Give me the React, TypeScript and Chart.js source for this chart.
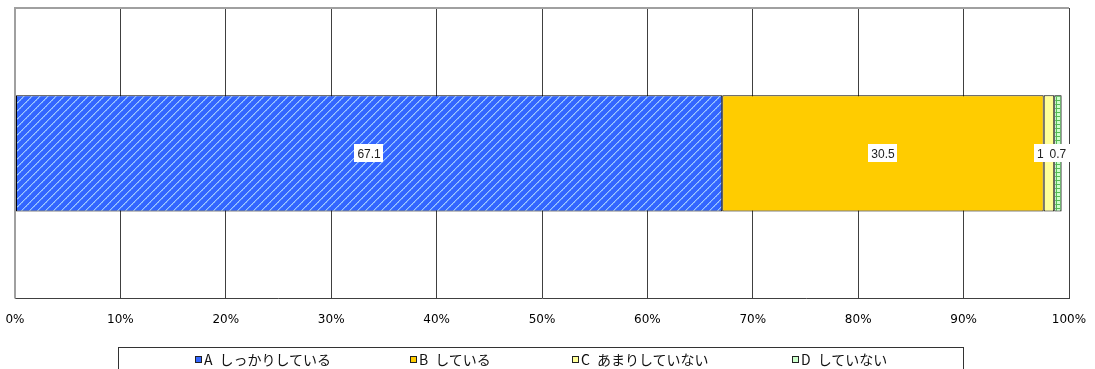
import React, { useEffect, useRef } from "react";
import { Chart, registerables } from "chart.js";

Chart.register(...registerables);

// Response shares (%) for a single question, stacked left to right
const categories = ["回答"];
const seriesCodes = ["A", "B", "C", "D"];
const seriesNames = ["しっかりしている", "している", "あまりしていない", "していない"];
const seriesValues = [67.1, 30.5, 1, 0.7];
const tickValues = [0, 10, 20, 30, 40, 50, 60, 70, 80, 90, 100];

const BLUE = "#3366FF";
const ORANGE = "#FFCC00";
const PALE_YELLOW = "#FFFF99";
const PALE_GREEN = "#CCFFCC";

function makeTile(size: number, draw: (ctx: CanvasRenderingContext2D) => void) {
  const c = document.createElement("canvas");
  c.width = size;
  c.height = size;
  const ctx = c.getContext("2d")!;
  draw(ctx);
  return c;
}

function bluePattern(ctx: CanvasRenderingContext2D) {
  const tile = makeTile(8, (t) => {
    t.fillStyle = BLUE;
    t.fillRect(0, 0, 8, 8);
    for (let i = 0; i < 8; i++) {
      t.fillStyle = "#9CC8FF";
      t.fillRect(i, 7 - i, 1, 1);
      t.fillStyle = "#5F8EFF";
      t.fillRect((i + 1) % 8, 7 - i, 1, 1);
      if (i % 2 === 0) {
        t.fillStyle = "#7FAEFF";
        t.fillRect(i, (8 - i) % 8, 1, 1);
      }
    }
  });
  return ctx.createPattern(tile, "repeat")!;
}

function greenPattern(ctx: CanvasRenderingContext2D) {
  const tile = makeTile(4, (t) => {
    t.fillStyle = PALE_GREEN;
    t.fillRect(0, 0, 4, 4);
    t.fillStyle = "#55BB55";
    t.fillRect(0, 0, 4, 1);
    t.fillRect(0, 0, 1, 4);
  });
  return ctx.createPattern(tile, "repeat")!;
}

// Plot area frame: light grey top and left edges
const framePlugin = {
  id: "frame",
  beforeDatasetsDraw(chart: any) {
    const { ctx, chartArea } = chart;
    ctx.save();
    ctx.strokeStyle = "#A0A0A0";
    ctx.lineWidth = 2;
    ctx.beginPath();
    ctx.moveTo(chartArea.left, chartArea.bottom);
    ctx.lineTo(chartArea.left, chartArea.top);
    ctx.lineTo(chartArea.right, chartArea.top);
    ctx.stroke();
    ctx.restore();
  },
};

// White value boxes centred on each segment, nudged apart when they collide
const valueLabelPlugin = {
  id: "valueLabels",
  afterDatasetsDraw(chart: any) {
    const { ctx } = chart;
    ctx.save();
    ctx.font = '12px "Liberation Sans", Arial, sans-serif';
    ctx.textAlign = "center";
    ctx.textBaseline = "middle";
    const boxes: { text: string; cx: number; cy: number; w: number }[] = [];
    chart.data.datasets.forEach((ds: any, i: number) => {
      const meta = chart.getDatasetMeta(i);
      const el = meta.data[0];
      if (!el) return;
      const text = String(ds.data[0]);
      const w = ctx.measureText(text).width + 6;
      boxes.push({ text, cx: (el.x + el.base) / 2, cy: el.y, w });
    });
    for (let i = boxes.length - 2; i >= 0; i--) {
      const a = boxes[i];
      const b = boxes[i + 1];
      const overlap = a.cx + a.w / 2 - (b.cx - b.w / 2);
      if (overlap > 0) a.cx -= overlap;
    }
    boxes.forEach((b) => {
      ctx.fillStyle = "#FFFFFF";
      ctx.fillRect(Math.round(b.cx - b.w / 2), Math.round(b.cy - 9), Math.round(b.w), 18);
      ctx.fillStyle = "#222222";
      ctx.fillText(b.text, b.cx, b.cy + 1);
    });
    ctx.restore();
  },
};

const legendLeft = [195, 410, 572, 792];

export default function App() {
  const canvasRef = useRef<HTMLCanvasElement | null>(null);

  useEffect(() => {
    const canvas = canvasRef.current!;
    const ctx = canvas.getContext("2d")!;
    const fills = [bluePattern(ctx), ORANGE, PALE_YELLOW, greenPattern(ctx)];

    const chart = new Chart(canvas, {
      type: "bar",
      data: {
        labels: categories,
        datasets: seriesNames.map((name, i) => ({
          label: seriesCodes[i] + " " + name,
          data: [seriesValues[i]],
          backgroundColor: fills[i] as any,
          borderColor: "#000000",
          borderWidth: 1,
          borderSkipped: false,
          barPercentage: 0.4,
          categoryPercentage: 1,
        })),
      },
      options: {
        indexAxis: "y",
        responsive: false,
        animation: false,
        layout: { padding: { left: 15, right: 26, top: 8, bottom: 28 } },
        plugins: {
          legend: { display: false },
          tooltip: { enabled: false },
        },
        scales: {
          x: {
            stacked: true,
            min: 0,
            max: 100,
            afterBuildTicks: (scale: any) => {
              scale.ticks = tickValues.map((v) => ({ value: v }));
            },
            afterFit: (scale: any) => {
              scale.paddingLeft = 0;
              scale.paddingRight = 0;
            },
            ticks: {
              callback: (v: any) => v + "%",
              color: "#000000",
              font: { family: '"DejaVu Sans", sans-serif', size: 12 },
              padding: 14,
              maxRotation: 0,
              autoSkip: false,
            },
            grid: {
              drawTicks: false,
              color: (c: any) => (c.index === 0 ? "#A0A0A0" : "#404040"),
              lineWidth: (c: any) => (c.index === 0 ? 2 : 1),
            },
            border: { display: true, color: "#404040", width: 1 },
          },
          y: {
            stacked: true,
            display: false,
          },
        },
      },
      plugins: [framePlugin, valueLabelPlugin],
    });
    return () => chart.destroy();
  }, []);

  const legendFills = [BLUE, ORANGE, PALE_YELLOW, PALE_GREEN];

  return (
    <div style={{ position: "absolute", left: 0, top: 0, width: 1095, height: 369, overflow: "hidden", background: "#fff" }}>
      <canvas ref={canvasRef} width={1095} height={369} style={{ position: "absolute", left: 0, top: 0 }} />
      <div
        style={{
          position: "absolute",
          left: 118,
          top: 347,
          width: 844,
          height: 40,
          borderTop: "1px solid #333",
          borderLeft: "1px solid #333",
          borderRight: "1px solid #333",
        }}
      />
      {seriesNames.map((name, i) => (
        <div
          key={name}
          style={{
            position: "absolute",
            left: legendLeft[i],
            top: 350,
            height: 18,
            display: "flex",
            alignItems: "center",
            fontFamily: '"Noto Sans CJK JP", sans-serif',
            fontSize: 14,
            color: "#111",
            whiteSpace: "pre",
          }}
        >
          <span
            style={{
              display: "inline-block",
              width: 5,
              height: 5,
              border: "1px solid #222",
              background: legendFills[i],
              marginRight: 2,
            }}
          />
          <span style={{ marginRight: 7 }}>{seriesCodes[i]}</span>
          <span>{name}</span>
        </div>
      ))}
    </div>
  );
}
